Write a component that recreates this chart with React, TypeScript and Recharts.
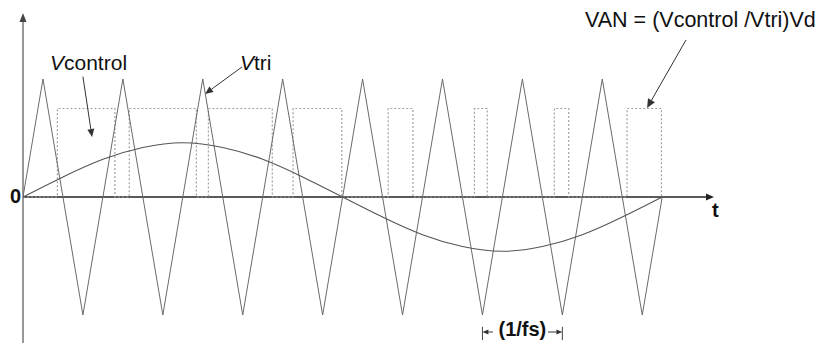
import React from "react";
import { LineChart, Line, XAxis, YAxis, ReferenceLine, ReferenceDot } from "recharts";

// time axis is in carrier periods (1/fs), amplitude in units of the Vtri peak

// Vtri corners
const triTime = [0, 0.25, 0.75, 1.25, 1.75, 2.25, 2.75, 3.25, 3.75, 4.25, 4.75, 5.25, 5.75, 6.25, 6.75, 7.25, 7.75, 8];
const triValue = [0, 1, -1, 1, -1, 1, -1, 1, -1, 1, -1, 1, -1, 1, -1, 1, -1, 0];

// Vcontrol read every half period
const ctrlTime = [0, 0.5, 1, 1.5, 2, 2.5, 3, 3.5, 4, 4.5, 5, 5.5, 6, 6.5, 7, 7.5, 8];
const ctrlValue = [0, 0.17, 0.32, 0.42, 0.46, 0.42, 0.32, 0.17, 0, -0.17, -0.32, -0.42, -0.46, -0.42, -0.32, -0.17, 0];

// VAN pulses (dotted trace): rising and falling edges
const pulseRise = [0.43, 1.33, 2.32, 3.38, 4.57, 5.65, 6.65, 7.56];
const pulseFall = [1.15, 2.17, 3.12, 3.99, 4.88, 5.81, 6.83, 7.99];
const pulseLevel = 0.75;

const X_MAX = 8.648;
const Y_MIN = -1.237;
const Y_MAX = 1.559;

const triData = triTime.map((t, i) => ({ t, v: triValue[i] }));
const ctrlData = ctrlTime.map((t, i) => ({ t, v: ctrlValue[i] }));
const vanData = [{ t: 0, v: 0 }];
pulseRise.forEach((r, i) => {
  vanData.push({ t: r, v: pulseLevel });
  vanData.push({ t: pulseFall[i], v: 0 });
});

const FONT = '"Liberation Sans", Arial, sans-serif';

// line with a filled head at its (x2, y2) end
const arrowShape = (len: number, half: number, color: string, width: number) =>
  (props: any) => {
    const { x1, y1, x2, y2 } = props;
    const a = Math.atan2(y2 - y1, x2 - x1);
    const bx = x2 - len * Math.cos(a);
    const by = y2 - len * Math.sin(a);
    const px = -Math.sin(a) * half;
    const py = Math.cos(a) * half;
    return (
      <g>
        <line x1={x1} y1={y1} x2={bx} y2={by} stroke={color} strokeWidth={width} />
        <polygon
          points={`${x2},${y2} ${bx + px},${by + py} ${bx - px},${by - py}`}
          fill={color}
        />
      </g>
    );
  };

const caption = (content: React.ReactNode, opts: any = {}) => (props: any) => (
  <text
    x={props.cx}
    y={props.cy}
    fontFamily={FONT}
    fontSize={opts.size || 21}
    fontWeight={opts.bold ? 700 : 400}
    textAnchor={opts.anchor || "start"}
    fill="#111"
  >
    {content}
  </text>
);

const App: React.FC = () => {
  return (
    <div style={{ position: "absolute", left: 0, top: 0, background: "#fff" }}>
      <LineChart
        width={820}
        height={345}
        margin={{ top: 13, right: 106, bottom: 2, left: 23 }}
      >
        <XAxis dataKey="t" type="number" domain={[0, X_MAX]} hide allowDataOverflow />
        <YAxis type="number" domain={[Y_MIN, Y_MAX]} hide allowDataOverflow />

        {/* axes with arrow heads */}
        <ReferenceLine
          segment={[{ x: 0, y: 0 }, { x: X_MAX, y: 0 }]}
          shape={arrowShape(8, 3.5, "#222", 1.5)}
        />
        <ReferenceLine
          segment={[{ x: 0, y: Y_MIN }, { x: 0, y: Y_MAX }]}
          shape={arrowShape(9, 3.5, "#444", 1.1)}
        />

        <Line
          data={vanData}
          dataKey="v"
          type="stepAfter"
          stroke="#a0a0a0"
          strokeWidth={1.2}
          strokeDasharray="2 2"
          dot={false}
          activeDot={false}
          isAnimationActive={false}
        />
        <Line
          data={triData}
          dataKey="v"
          type="linear"
          stroke="#6a6a6a"
          strokeWidth={1}
          dot={false}
          activeDot={false}
          isAnimationActive={false}
        />
        <Line
          data={ctrlData}
          dataKey="v"
          type="natural"
          stroke="#555"
          strokeWidth={1.1}
          dot={false}
          activeDot={false}
          isAnimationActive={false}
        />

        {/* pointer arrows */}
        <ReferenceLine
          segment={[{ x: 0.75, y: 1.02 }, { x: 0.864, y: 0.508 }]}
          shape={arrowShape(8, 3.5, "#333", 1)}
        />
        <ReferenceLine
          segment={[{ x: 2.741, y: 1.102 }, { x: 2.278, y: 0.873 }]}
          shape={arrowShape(8, 3.5, "#333", 1)}
        />
        <ReferenceLine
          segment={[{ x: 8.298, y: 1.331 }, { x: 7.81, y: 0.754 }]}
          shape={arrowShape(9, 4, "#333", 1)}
        />

        {/* 1/fs dimension */}
        <ReferenceLine
          segment={[{ x: 5.75, y: -1.1 }, { x: 5.75, y: -1.213 }]}
          stroke="#444"
          strokeWidth={1}
        />
        <ReferenceLine
          segment={[{ x: 6.75, y: -1.1 }, { x: 6.75, y: -1.213 }]}
          stroke="#444"
          strokeWidth={1}
        />
        <ReferenceLine
          segment={[{ x: 5.88, y: -1.144 }, { x: 5.75, y: -1.144 }]}
          shape={arrowShape(6, 2.5, "#333", 1)}
        />
        <ReferenceLine
          segment={[{ x: 6.57, y: -1.144 }, { x: 6.75, y: -1.144 }]}
          shape={arrowShape(6, 2.5, "#333", 1)}
        />

        {/* labels */}
        <ReferenceDot
          x={0.338}
          y={1.076}
          ifOverflow="visible"
          shape={caption(
            <>
              <tspan fontStyle="italic">V</tspan>control
            </>
          )}
        />
        <ReferenceDot
          x={2.716}
          y={1.076}
          ifOverflow="visible"
          shape={caption(
            <>
              <tspan fontStyle="italic">V</tspan>tri
            </>
          )}
        />
        <ReferenceDot
          x={7.034}
          y={1.441}
          ifOverflow="visible"
          shape={caption("VAN = (Vcontrol /Vtri)Vd", { size: 21.5 })}
        />
        <ReferenceDot
          x={-0.025}
          y={-0.05}
          ifOverflow="visible"
          shape={caption("0", { bold: true, anchor: "end", size: 20 })}
        />
        <ReferenceDot
          x={8.623}
          y={-0.169}
          ifOverflow="visible"
          shape={caption("t", { bold: true, size: 20 })}
        />
        <ReferenceDot
          x={6.25}
          y={-1.175}
          ifOverflow="visible"
          shape={caption("(1/fs)", { bold: true, anchor: "middle", size: 20 })}
        />
      </LineChart>
    </div>
  );
};

export default App;
